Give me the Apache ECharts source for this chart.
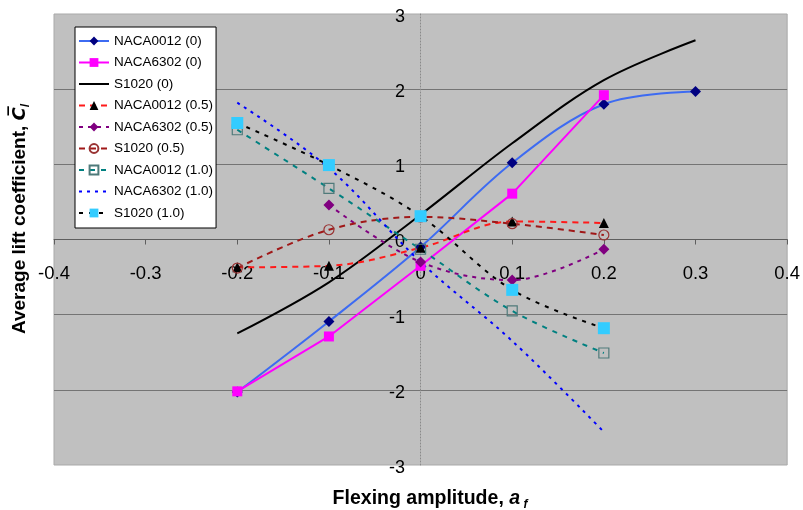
<!DOCTYPE html>
<html>
<head>
<meta charset="utf-8">
<script src="https://cdn.jsdelivr.net/npm/echarts@6/dist/echarts.min.js"></script>
<style>
  html, body { margin: 0; padding: 0; background: #fff; }
  #chart { width: 803px; height: 510px; }
</style>
</head>
<body>
<div id="chart"></div>
<script>
// Flexing amplitude values shared by every series
const amplitude = [-0.2, -0.1, 0, 0.1, 0.2, 0.3];

// Average lift coefficient per aerofoil and phase setting
const naca0012_0  = [-2.03, -1.09, -0.10, 1.02, 1.80, 1.97];
const naca6302_0  = [-2.02, -1.29, -0.35, 0.61, 1.92, null];
const s1020_0     = [-1.25, -0.57, 0.33, 1.28, 2.12, 2.65];
const naca0012_05 = [-0.37, -0.35, -0.11, 0.24, 0.22, null];
const naca6302_05 = [null, 0.46, -0.30, -0.54, -0.13, null];
const s1020_05    = [-0.38, 0.13, 0.30, 0.21, 0.06, null];
const naca0012_10 = [1.46, 0.68, -0.13, -0.95, -1.51, null];
const naca6302_10 = [1.82, 0.95, -0.30, -1.35, -2.56, null];
const s1020_10    = [1.55, 0.99, 0.31, -0.67, -1.18, null];

const seriesNames = [
  'NACA0012 (0)', 'NACA6302 (0)', 'S1020 (0)',
  'NACA0012 (0.5)', 'NACA6302 (0.5)', 'S1020 (0.5)',
  'NACA0012 (1.0)', 'NACA6302 (1.0)', 'S1020 (1.0)'
];

// Series drawn as plain lines (no marker in the legend either)
const lineOnly = ['S1020 (0)', 'NACA6302 (1.0)'];

const xTicks = [-0.4, -0.3, -0.2, -0.1, 0, 0.1, 0.2, 0.3, 0.4];
const yTicks = [-3, -2, -1, 0, 1, 2, 3];

function pairs(values) {
  const out = [];
  values.forEach((v, i) => { if (v !== null) out.push([amplitude[i], v]); });
  return out;
}

function line(name, values, opts) {
  return Object.assign({
    name: name,
    type: 'line',
    data: pairs(values),
    smooth: 0.35,
    symbolSize: 10,
    emphasis: { disabled: true },
    animation: false
  }, opts);
}

const FONT = 'Liberation Sans, Arial, sans-serif';

const series = [
  line(seriesNames[0], naca0012_0, {
    symbol: 'diamond', symbolSize: 11,
    itemStyle: { color: '#000080' },
    lineStyle: { color: '#3d6bf2', width: 2 }
  }),
  line(seriesNames[1], naca6302_0, {
    smooth: false, symbol: 'rect', symbolSize: 10,
    itemStyle: { color: '#ff00ff' },
    lineStyle: { color: '#ff00ff', width: 2 }
  }),
  line(seriesNames[2], s1020_0, {
    symbol: 'none',
    itemStyle: { color: '#000000' },
    lineStyle: { color: '#000000', width: 2 }
  }),
  line(seriesNames[3], naca0012_05, {
    symbol: 'triangle', symbolSize: 10,
    itemStyle: { color: '#000000' },
    lineStyle: { color: '#ff1a1a', width: 2, type: [6, 5] }
  }),
  line(seriesNames[4], naca6302_05, {
    symbol: 'diamond', symbolSize: 11,
    itemStyle: { color: '#800080' },
    lineStyle: { color: '#800080', width: 2, type: [4, 5] }
  }),
  line(seriesNames[5], s1020_05, {
    symbol: 'circle', symbolSize: 10,
    itemStyle: { color: 'rgba(0,0,0,0)', borderColor: '#993333', borderWidth: 1.2 },
    lineStyle: { color: '#a01818', width: 2, type: [6, 5] }
  }),
  line(seriesNames[6], naca0012_10, {
    symbol: 'rect', symbolSize: 10,
    itemStyle: { color: 'rgba(0,0,0,0)', borderColor: '#4f7a7a', borderWidth: 1.2 },
    lineStyle: { color: '#008080', width: 2, type: [5, 6] }
  }),
  line(seriesNames[7], naca6302_10, {
    symbol: 'none',
    itemStyle: { color: '#0000ff' },
    lineStyle: { color: '#0000ff', width: 2, type: [3, 5] }
  }),
  line(seriesNames[8], s1020_10, {
    symbol: 'rect', symbolSize: 12,
    itemStyle: { color: '#33ccff' },
    lineStyle: { color: '#000000', width: 2, type: [4, 6] }
  })
];

const legendData = seriesNames.map(n =>
  lineOnly.indexOf(n) >= 0
    ? { name: n, itemStyle: { color: 'rgba(0,0,0,0)', borderWidth: 0, opacity: 0 } }
    : { name: n }
);

const chart = echarts.init(document.getElementById('chart'), null, { renderer: 'canvas' });

chart.setOption({
  animation: false,
  backgroundColor: '#ffffff',
  grid: {
    left: 54, right: 12, top: 14, bottom: 45,
    show: true, backgroundColor: '#c0c0c0',
    borderColor: '#a9a9a9', borderWidth: 1
  },
  xAxis: {
    type: 'value',
    min: xTicks[0], max: xTicks[xTicks.length - 1], interval: 0.1,
    axisLine: { onZero: true, lineStyle: { color: '#5e5e5e', width: 1 } },
    axisTick: { show: true, length: 5, lineStyle: { color: '#5e5e5e' } },
    axisLabel: {
      margin: -201, fontFamily: FONT, fontSize: 18.5, color: '#000',
      formatter: v => String(Math.round(v * 10) / 10)
    },
    splitLine: { show: false }
  },
  yAxis: {
    type: 'value',
    min: yTicks[0], max: yTicks[yTicks.length - 1], interval: 1,
    axisLine: { onZero: true, lineStyle: { color: '#8a8a8a', width: 1, type: [1, 2] } },
    axisTick: { show: false },
    axisLabel: {
      margin: -351, fontFamily: FONT, fontSize: 18, color: '#000',
      verticalAlign: 'top', lineHeight: 6
    },
    splitLine: {
      show: true, showMinLine: false, showMaxLine: false,
      lineStyle: { color: '#747474', width: 1 }
    }
  },
  legend: {
    data: legendData,
    orient: 'vertical',
    left: 75, top: 27,
    backgroundColor: '#ffffff',
    borderColor: '#000000', borderWidth: 1,
    padding: [7, 3, 8, 3],
    itemGap: 7.5,
    itemWidth: 30, itemHeight: 11,
    textStyle: { fontFamily: FONT, fontSize: 13.5, color: '#000' },
    selectedMode: false
  },
  graphic: [
    {
      type: 'text',
      x: 20, y: 219,
      rotation: Math.PI / 2,
      style: {
        text: '{a|Average lift coefficient, }{c|C\u0305}{s|l}',
        align: 'center', verticalAlign: 'middle',
        rich: {
          a: { fontFamily: FONT, fontSize: 19, fontWeight: 'bold', fill: '#000', lineHeight: 24 },
          c: { fontFamily: 'DejaVu Sans, ' + FONT, fontSize: 18, fontWeight: 'bold', fontStyle: 'italic', fill: '#000', lineHeight: 24 },
          s: { fontFamily: FONT, fontSize: 12, fontWeight: 'bold', fontStyle: 'italic', fill: '#000', lineHeight: 12, verticalAlign: 'bottom' }
        }
      }
    },
    {
      type: 'text',
      x: 430, y: 499,
      style: {
        text: '{a|Flexing amplitude, }{b|a}{s| f}',
        align: 'center', verticalAlign: 'middle',
        rich: {
          a: { fontFamily: FONT, fontSize: 19.5, fontWeight: 'bold', fill: '#000', lineHeight: 24 },
          b: { fontFamily: FONT, fontSize: 19.5, fontWeight: 'bold', fontStyle: 'italic', fill: '#000', lineHeight: 24 },
          s: { fontFamily: FONT, fontSize: 12, fontWeight: 'bold', fontStyle: 'italic', fill: '#000', lineHeight: 12, verticalAlign: 'bottom' }
        }
      }
    }
  ],
  series: series
});
</script>
</body>
</html>
